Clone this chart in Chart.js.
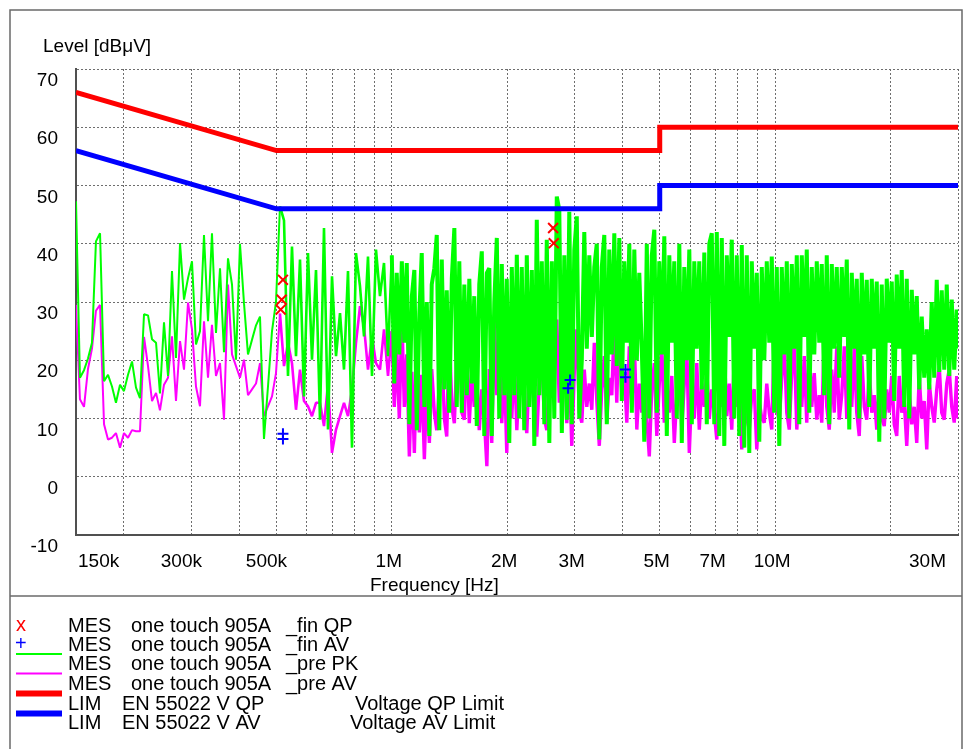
<!DOCTYPE html>
<html><head><meta charset="utf-8">
<script src="https://cdn.jsdelivr.net/npm/chart.js@4.4.0/dist/chart.umd.min.js"></script>
<style>html,body{margin:0;padding:0;background:#fff;overflow:hidden}canvas{display:block}</style>
</head><body>
<canvas id="c" width="963" height="749" style="width:963px;height:749px"></canvas>
<script>
// ---- frequency sweep points (kHz) ----
const freqKHz = [
150,153.6,157.4,161.2,165.1,169.1,173.3,177.5,181.8,186.2,190.7,195.4,200.1,205,210,215.1,220.3,225.7,231.2,236.8,
242.6,248.4,254.5,260.7,267,273.5,280.2,287,294,301.1,308.4,315.9,323.6,331.5,339.5,347.8,356.3,364.9,373.8,382.9,
392.2,401.7,411.5,421.5,431.7,442.3,453,464,475.3,486.9,498.7,510.8,523.3,536,549,562.4,576.1,590.1,604.4,619.1,
634.2,649.6,665.4,681.6,698.2,715.2,732.6,750.4,768.6,787.3,806.4,826.1,846.2,866.7,887.8,909.4,931.5,954.2,977.4,
1000,1015,1030,1046,1062,1078,1094,1111,1128,1145,1162,1180,1197,1216,1234,1253,1271,1291,1310,1330,
1350,1371,1391,1412,1434,1456,1477,1500,1523,1546,1569,1593,1617,1641,1666,1691,1717,1743,1770,1796,
1823,1851,1879,1907,1936,1966,1995,2025,2056,2087,2119,2151,2183,2216,2250,2284,2319,2354,2389,2426,
2462,2500,2537,2576,2615,2654,2694,2735,2777,2819,2861,2904,2948,2993,3038,3084,3131,3178,3226,3275,
3325,3375,3426,3478,3530,3584,3638,3693,3749,3806,3863,3922,3981,4041,4103,4165,4228,4292,4357,4422,
4489,4557,4626,4696,4767,4840,4913,4987,5063,5139,5217,5296,5376,5457,5540,5624,5709,5795,5883,5972,
6062,6154,6247,6341,6437,6535,6634,6734,6836,6939,7044,7151,7259,7369,7480,7593,7708,7825,7943,8063,
8185,8309,8435,8562,8692,8824,8957,9093,9230,9370,9511,9655,9801,9949,10100,10253,10408,10566,10726,10888,
11053,11220,11390,11562,11737,11914,12094,12277,12463,12652,12843,13037,13234,13435,13638,13844,14054,14266,14482,14701,
14924,15149,15379,15611,15847,16087,16330,16577,16828,17083,17341,17603,17870,18140,18414,18693,18976,19263,19554,19849,
20150,20455,20764,21078,21397,21722,22050,22383,22722,23066,23415,23769,24128,24493,24864,25240,25622,26010,26403,26802,
27208,27620,28038,28462,28893,29330,29774,30000
];
// ---- pre-scan peak (green), dBuV ----
const prePK = [
47.3,17,18.3,20.3,23,40.4,41.8,16.4,17.5,15.5, 12.7,15.8,14.7,17.5,19.8,15.3,13.5,27.9,27.7,23.6,
23,14.3,26.5,17.3,35.3,20.4,40.1,30.4,34.1,37, 22.7,25,41.5,26.7,41.8,24.7,35.8,21.4,37.5,33,
20.1,40,29.8,21,23.5,26,27.5,6.5,15.5,25, 30,46.4,44,17.3,39.5,20.7,37.3,13.8,38.4,20.1,
35.5,9.8,42.7,8.1,34.4,20.7,28.1,18.4,35.3,5, 38.4,32.7,24.1,37.8,17.3,39,31,36.7,20.7,
38,16,35,21,37,23,36.7,9,31,35.5, 8,28,38.4,12,30,7,33,35.8,41.5,8,
37.3,15,32,11,34,42.7,12,37,11,33, 14,34,16,31,8.7,33,38.7,7,35,35.8,
7,30,41,10,36.5,14,34,5.8,36,14, 38.1,10,36,8,38,12,35.5,5.3,44.1,14,
37,9,40.7,5.8,37,10,48.1,45.8,7.5,38, 9.8,45.5,9,39,44.7,10,20,42,22,38,
24,36,40,6.4,36,41.5,9,39,21,41.8, 19,41,13,37,23,40,11,39,20,35,
22,6,40,10,38,42.4,11,37,21,41.3, 7,38,23,37,10,40,5.8,36,20,39,
9,37,22,37,15,38.5,9,40,41.8,9, 42,7,41,5.3,38,24,40.7,10,38,7,
39.8,5,38,4.1,37,22,35,6,36,20, 37,23,37.8,11,36,5.3,36,21,37,10,
36.5,22,38,9,38,24,39,11,36,21, 37,23,36.5,14,38,9,36.5,22,36,17,
36,24,37.3,8.1,35,22,34,10,35,21, 33.8,12,34,22,33.5,6,33,10,34,23,
33.5,13,34.7,22,35.5,12,34,10,32.1,21, 31,15,27.5,17,25.3,15,30,17,33.8,18,
32,18.4,33,17.3,30.4,18.4,28.7,22
];
// ---- pre-scan average (magenta), dBuV ----
const preAV = [
29.5,13.3,12,18.5,22,28.5,29.5,9,6.4,6.7, 7.5,5,7.5,6.7,8,7.8,7.8,24,19,13,
14.4,11.4,15.8,17,24.1,13,23.3,18.4,29.9,25.3, 15.5,12.1,26.7,17,26.1,17.3,19.5,9.8,33,21,
19,17,20.1,14,15,16,19.5,10.4,12.1,13.8, 17.8,28,19,23,19.5,11.5,18.4,13,12.1,10.4,
12.7,12.7,8.7,16,4.1,8.1,10.4,12.7,10.4,15, 23,29.3,25.8,18.4,24.1,19.5,18.4,25.3,17.3,
25,12,22,10,27.5,12,21,3.5,18,4.1, 22,7.6,17.5,3,16,5.8,18.5,11,8,16,
23,10,6.9,25.3,12,9.2,20,28.1,11,9.8, 22.5,9.2,18,12,17.5,8,15,10,1.8,18.5,
5.8,27.5,14,26.4,9.2,19,4.1,22.5,10,20.7, 8,17,24.7,11,7.5,19,20.7,10,6.9,17,
20.7,10,8,18,14,24,27,12.7,20,26.4, 9.2,19,5.3,18,25.3,11,9.3,18.4,12,16,
11.5,23,13,5.3,15,20.7,9.3,17,14,26.4, 12.7,28.7,14,18,9.3,22.4,12,23.5,8.1,16,
11,17.3,10,3.5,15,19.5,7,16,22.4,9.3, 15,11,17.3,5.8,14,20.1,8.1,16,22.4,4.1,
15,10,19.5,8.1,16,12,18.4,10,15,11, 6.4,17,12,21.8,10.4,16,8.1,20.7,12,15,
4.7,19.5,10,8.1,14,15,4.7,13,10,9.3, 16,11,8.1,24.1,12,9.3,17,23,11,8.1,
18,23,8.1,15,12,20.7,9.3,22.4,12,17.8, 9.8,14,9.3,24.1,12,8.1,18.4,11,22.4,9.8,
14,22.4,10,16,12,22.4,11,7,20.7,12, 9.8,18.4,11,14,8.1,16.1,10,8.7,15,11,
17.3,9,7,17.3,11,13,5.3,15,9,12, 5.8,17.3,10,13,4.7,16.1,12,9.3,15,19,
11,9.8,16,18.4,12,9.3,17.3,10
];
// ---- final measurements ----
const finQPFreq = [520,516,513,2635,2645];
const finQPLevel = [33.8,30.4,28.7,42.7,40.1];
const finAVFreq = [520,520,2918,2883,4071,4071];
const finAVLevel = [7.4,6.5,16.6,15.2,18.4,17.1];
// ---- limits EN 55022 ----
const limitFreq = [150,500,5000,5000,30000];
const limitQP = [66,56,56,60,60];
const limitAV = [56,46,46,50,50];
// ---- axes ----
const xGridVals = [200,300,400,500,600,700,800,900,1000,2000,3000,4000,5000,6000,7000,8000,9000,10000,20000,30000];
const xTickVals = [150,300,500,1000,2000,3000,5000,7000,10000,30000];
const xTickLabels = ['150k','300k','500k','1M','2M','3M','5M','7M','10M','30M'];
const yMin = -10, yMax = 70, yStep = 10;
const yTitle = 'Level [dBμV]';
const xTitle = 'Frequency [Hz]';
// ---- legend texts ----
const legendTags = ['MES','MES','MES','MES','LIM','LIM'];
const legendNames = ['one touch 905A','one touch 905A','one touch 905A','one touch 905A','EN 55022 V QP','EN 55022 V AV'];
const legendKinds = ['_fin QP','_fin AV','_pre PK','_pre AV','Voltage QP Limit','Voltage AV Limit'];

if (freqKHz.length !== prePK.length || freqKHz.length !== preAV.length) {
  throw new Error('length mismatch ' + freqKHz.length + ' ' + prePK.length + ' ' + preAV.length);
}

const FONT = '"Liberation Sans", Arial, sans-serif';
const pts = (xs, ys) => xs.map((x, i) => ({x: x, y: ys[i]}));
// thicker stroke where the sweep is visually dense
const traceWidth = (base, extra) => (c) => {
  const f = c.p0.parsed.x;
  return f >= 1000 ? base + extra : (f >= 500 ? base + 0.6 : base);
};

const decor = {
  id: 'decor',
  beforeDraw(chart) {
    const ctx = chart.ctx;
    ctx.save(); ctx.fillStyle = '#fff'; ctx.fillRect(0, 0, chart.width, chart.height); ctx.restore();
  },
  afterDraw(chart) {
    const ctx = chart.ctx, xs = chart.scales.x, ca = chart.chartArea;
    ctx.save();
    // outer frame
    ctx.strokeStyle = '#6a6a6a'; ctx.lineWidth = 1.5;
    ctx.beginPath(); ctx.moveTo(10, 749); ctx.lineTo(10, 10); ctx.lineTo(962, 10); ctx.lineTo(962, 749); ctx.stroke();
    ctx.beginPath(); ctx.moveTo(10, 596); ctx.lineTo(962, 596); ctx.stroke();
    // titles
    ctx.fillStyle = '#000'; ctx.textBaseline = 'middle'; ctx.textAlign = 'left';
    ctx.font = '19px ' + FONT;
    ctx.fillText(yTitle, 43, 47);
    ctx.fillText(xTitle, 370, 586);
    // x tick labels
    xTickVals.forEach((v, i) => {
      const t = xTickLabels[i];
      const w = ctx.measureText(t).width;
      let left = xs.getPixelForValue(v) - w / 2 + (t.endsWith('k') ? -10 : -3);
      left = Math.max(left, ca.left + 2);
      left = Math.min(left, ca.right - 12 - w);
      ctx.fillText(t, left, 562);
    });
    // legend
    const rowY = [626, 645, 664, 684, 704, 723];
    ctx.font = '20px ' + FONT;
    legendTags.forEach((tag, i) => {
      ctx.fillStyle = '#000';
      ctx.fillText(tag, 68, rowY[i]);
      ctx.fillText(legendNames[i], tag === 'MES' ? 131 : 122, rowY[i]);
      ctx.fillText(legendKinds[i], tag === 'MES' ? 286 : (i === 4 ? 355 : 350), rowY[i]);
    });
    ctx.fillStyle = '#ff0000'; ctx.fillText('x', 16, 625);
    ctx.fillStyle = '#0000ff'; ctx.fillText('+', 15, 644);
    const seg = (y, c, w) => { ctx.strokeStyle = c; ctx.lineWidth = w; ctx.beginPath(); ctx.moveTo(16, y); ctx.lineTo(62, y); ctx.stroke(); };
    seg(654, '#00ff00', 2);
    seg(673.5, '#ff00ff', 2);
    seg(693.5, '#ff0000', 6);
    seg(713.5, '#0000ff', 6);
    ctx.restore();
  }
};

new Chart(document.getElementById('c'), {
  type: 'scatter',
  data: {
    datasets: [
      {label: 'MES one touch 905A _fin QP', data: pts(finQPFreq, finQPLevel), pointStyle: 'crossRot', pointRadius: 7,
       pointBorderWidth: 2, borderColor: '#ff0000', backgroundColor: '#ff0000', showLine: false, order: 0},
      {label: 'MES one touch 905A _fin AV', data: pts(finAVFreq, finAVLevel), pointStyle: 'cross', pointRadius: 5.5,
       pointBorderWidth: 2, borderColor: '#0000ff', backgroundColor: '#0000ff', showLine: false, order: 0},
      {label: 'LIM EN 55022 V QP', data: pts(limitFreq, limitQP), showLine: true, borderColor: '#ff0000', borderWidth: 5,
       pointRadius: 0, tension: 0, order: 1},
      {label: 'LIM EN 55022 V AV', data: pts(limitFreq, limitAV), showLine: true, borderColor: '#0000ff', borderWidth: 5,
       pointRadius: 0, tension: 0, order: 1},
      {label: 'MES one touch 905A _pre PK', data: pts(freqKHz, prePK), showLine: true, borderColor: '#00ff00', borderWidth: 2,
       borderJoinStyle: 'bevel', pointRadius: 0, tension: 0, order: 2, segment: {borderWidth: traceWidth(2, 2)}},
      {label: 'MES one touch 905A _pre AV', data: pts(freqKHz, preAV), showLine: true, borderColor: '#ff00ff', borderWidth: 2,
       borderJoinStyle: 'bevel', pointRadius: 0, tension: 0, order: 3, segment: {borderWidth: traceWidth(2, 1.4)}}
    ]
  },
  options: {
    responsive: false, animation: false, devicePixelRatio: 1, events: [],
    layout: {autoPadding: false, padding: {left: 0, top: 69, right: 5, bottom: 214}},
    plugins: {legend: {display: false}, tooltip: {enabled: false}},
    scales: {
      x: {
        type: 'logarithmic', min: 150, max: 30000,
        afterBuildTicks: (s) => { s.ticks = xGridVals.map(v => ({value: v})); },
        afterFit: (s) => { s.height = 0; },
        ticks: {display: false},
        grid: {color: '#6e6e6e', lineWidth: 1, drawTicks: false},
        border: {display: true, color: '#505050', width: 2, dash: [2, 2]}
      },
      y: {
        type: 'linear', min: yMin, max: yMax,
        afterFit: (s) => { s.width = 76; },
        ticks: {stepSize: yStep, color: '#000', font: {family: FONT, size: 19}, padding: 18, labelOffset: 12},
        grid: {color: '#6e6e6e', lineWidth: 1, drawTicks: false},
        border: {display: true, color: '#505050', width: 2, dash: [2, 2]}
      }
    }
  },
  plugins: [decor]
});
</script>
</body></html>
